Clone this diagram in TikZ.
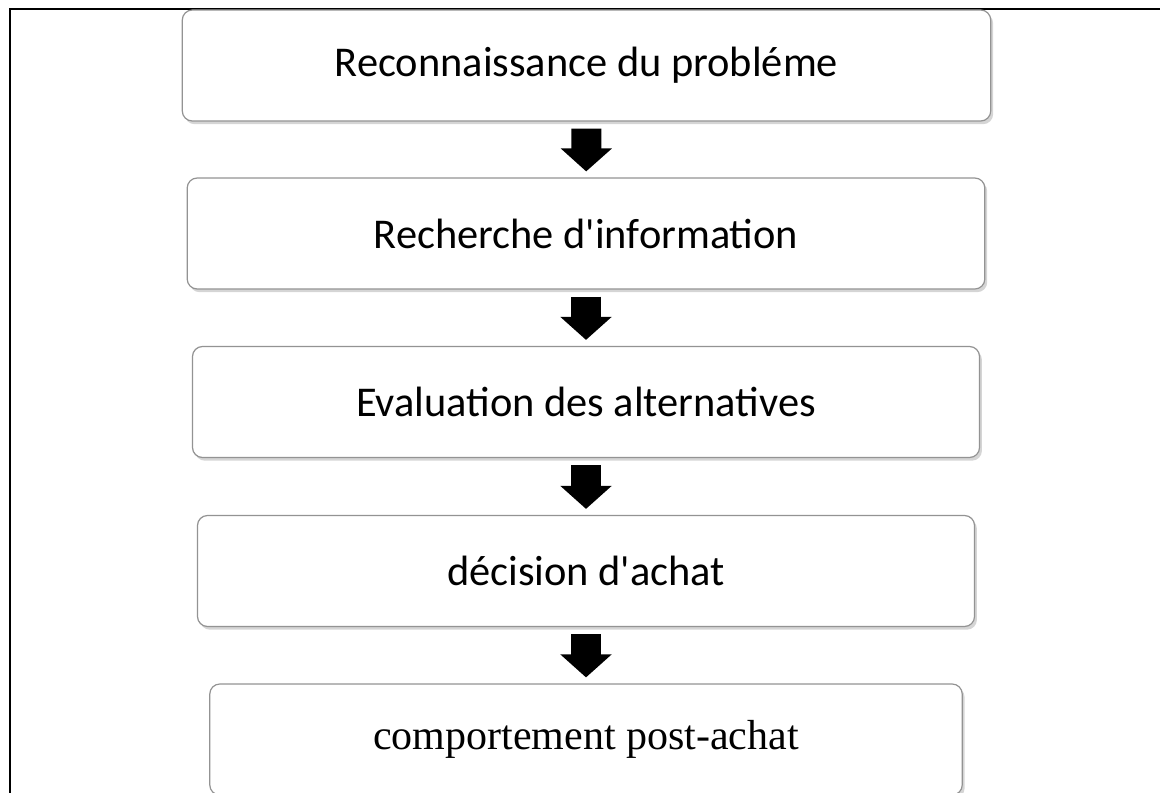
\documentclass[tikz,border=0pt]{standalone}
\usepackage{fontspec}
\setmainfont{Carlito}[Ligatures=TeXOff]
\newfontfamily\timesfont{Liberation Serif}
\usetikzlibrary{shadows,arrows.meta}
\tikzset{
  etape/.style={draw=gray!85, line width=0.6pt, rounded corners=5pt, fill=white,
    minimum height=55.5pt, inner sep=0pt, font=\fontsize{21.2}{25}\selectfont,
    drop shadow={shadow xshift=1.2pt, shadow yshift=-1.6pt, fill=gray!55, opacity=0.6}},
  fleche/.style={line width=15pt, -{Triangle[width=25pt,length=11.5pt]},
    shorten <=3.5pt, shorten >=3pt}
}
\begin{document}
\begin{tikzpicture}[x=0.5pt, y=-0.5pt]
  \clip (0,0) rectangle (1160,792);
  % cadre
  \draw[line width=1pt] (1170,9) -- (10,9) -- (10,800);
  % etapes
  \node[etape, minimum width=404.2pt] (reco) at (586.5,65.5) {Reconnaissance du probléme};
  \node[etape, minimum width=398.8pt] (rech) at (586,233.5) {Recherche d'information};
  \node[etape, minimum width=393.5pt] (eval) at (586,402) {Evaluation des alternatives};
  \node[etape, minimum width=388.5pt] (deci) at (586,571) {décision d'achat};
  \node[etape, minimum width=376.2pt, font=\timesfont\fontsize{21}{25}\selectfont] (post) at (586,739.5) {comportement post-achat};
  % fleches
  \draw[fleche] (reco) -- (rech);
  \draw[fleche] (rech) -- (eval);
  \draw[fleche] (eval) -- (deci);
  \draw[fleche] (deci) -- (post);
\end{tikzpicture}
\end{document}
